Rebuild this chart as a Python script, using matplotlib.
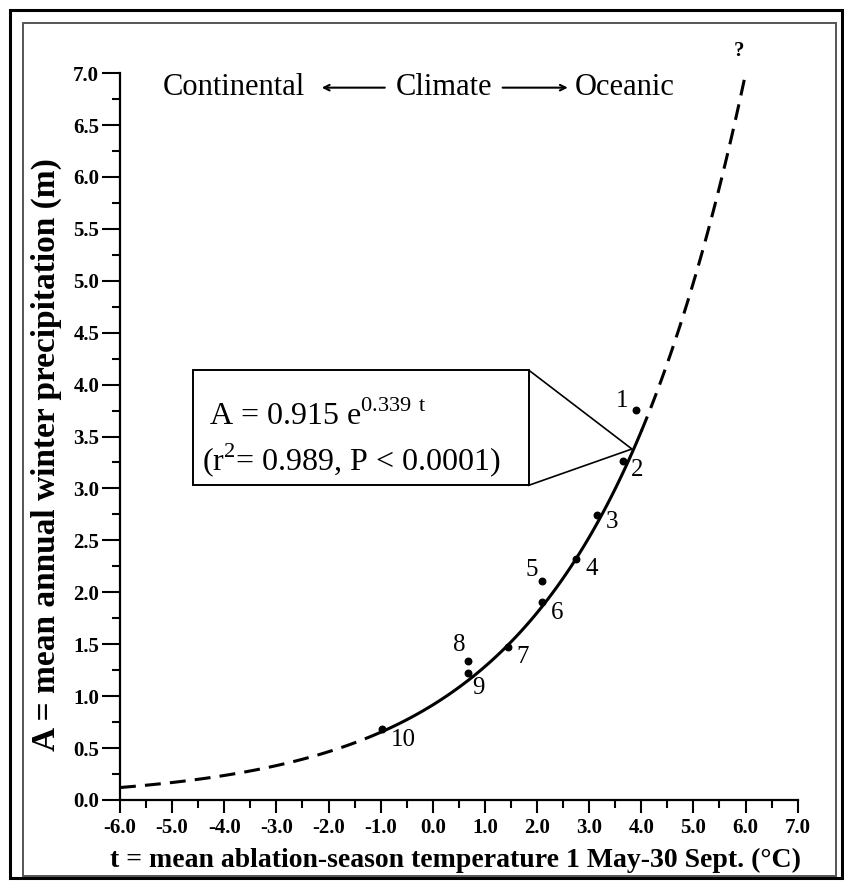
import numpy as np
import matplotlib
matplotlib.use("Agg")
import matplotlib.pyplot as plt
from matplotlib.patches import Rectangle

plt.rcParams["font.family"] = ["Liberation Serif", "DejaVu Serif"]
plt.rcParams["mathtext.fontset"] = "custom"
plt.rcParams["mathtext.rm"] = "Liberation Serif"
plt.rcParams["axes.unicode_minus"] = False

# fitted model A = a * exp(b * t), as printed on the chart
fit_a = 0.915
fit_b = 0.339

station_ids = ["1", "2", "3", "4", "5", "6", "7", "8", "9", "10"]
temp_t = [3.90, 3.65, 3.15, 2.75, 2.10, 2.10, 1.45, 0.67, 0.67, -0.97]
precip_a = [3.76, 3.26, 2.74, 2.32, 2.11, 1.91, 1.47, 1.34, 1.22, 0.68]
# label offsets in pixels (dx, dy) relative to each dot
label_offsets = [(-14, 9), (14, -9), (15, -7), (16, -10), (-10, 11),
                 (15, -11), (14, -10), (-8, 16), (11, -15), (21, -11)]

x_ticks = np.arange(-6.0, 7.01, 1.0)
y_ticks = np.arange(0.0, 7.01, 0.5)

# curve segments: dashed extrapolation, solid over observed range
t_low = np.linspace(-6.0, -1.0, 100)
t_obs = np.linspace(-1.0, 4.0, 100)
t_high = np.linspace(4.0, 6.0, 100)


def model(t):
    return fit_a * np.exp(fit_b * t)


fig = plt.figure(figsize=(8.45, 8.81), dpi=100)
ax = fig.add_axes([0.142, 0.092, 0.802, 0.825])

dash = (5.2, 3.0)
ax.plot(t_low, model(t_low), color="black", lw=2.2, dashes=dash)
ax.plot(t_obs, model(t_obs), color="black", lw=2.2)
ax.plot(t_high, model(t_high), color="black", lw=2.2, dashes=dash, clip_on=False)
ax.text(5.88, 7.12, "?", fontsize=15, fontweight="bold", ha="center", va="bottom")

ax.scatter(temp_t, precip_a, s=22, color="black", zorder=3)
for sid, t, a, (dx, dy) in zip(station_ids, temp_t, precip_a, label_offsets):
    ax.annotate(sid, (t, a), xytext=(dx * 0.72, dy * 0.72), textcoords="offset points",
                ha="center", va="center", fontsize=18)

# equation box with pointer to the curve
box_x0, box_y0, box_x1, box_y1 = -4.60, 3.03, 1.84, 4.14
apex = (3.82, 3.38)
ax.add_patch(Rectangle((box_x0, box_y0), box_x1 - box_x0, box_y1 - box_y0,
                       fill=False, lw=1.4, color="black"))
ax.plot([box_x1, apex[0], box_x1], [box_y1, apex[1], box_y0], color="black", lw=1.2)
ax.text(-4.30, 3.61, r"A = 0.915 e$^{\mathrm{0.339\ t}}$", fontsize=23, va="baseline")
ax.text(-4.43, 3.18, r"(r$^{\mathrm{2}}$= 0.989, P < 0.0001)", fontsize=23, va="baseline")

# climate header
ax.text(-5.18, 6.86, "Continental", fontsize=22, ha="left", va="center")
ax.text(0.22, 6.86, "Climate", fontsize=22, ha="center", va="center")
ax.text(2.72, 6.86, "Oceanic", fontsize=22, ha="left", va="center")
arrow_kw = dict(arrowstyle="->", lw=1.5, color="black", shrinkA=0, shrinkB=0)
ax.annotate("", xy=(-2.13, 6.86), xytext=(-0.92, 6.86), arrowprops=arrow_kw)
ax.annotate("", xy=(2.59, 6.86), xytext=(1.34, 6.86), arrowprops=arrow_kw)

ax.set_xlim(-6.0, 7.0)
ax.set_ylim(0.0, 7.0)
ax.spines["top"].set_visible(False)
ax.spines["right"].set_visible(False)
ax.spines["left"].set_linewidth(1.6)
ax.spines["bottom"].set_linewidth(1.6)

ax.set_xticks(x_ticks)
ax.set_xticklabels([f"{v:.1f}" for v in x_ticks])
ax.set_xticks(np.arange(-5.5, 7.0, 1.0), minor=True)
ax.set_yticks(y_ticks)
ax.set_yticklabels([f"{v:.1f}" for v in y_ticks])
ax.set_yticks(np.arange(0.25, 7.0, 0.5), minor=True)
ax.tick_params(axis="both", which="major", direction="out", width=1.5, labelsize=15)
ax.tick_params(axis="x", which="major", length=9, pad=4)
ax.tick_params(axis="y", which="major", length=13, pad=2)
ax.tick_params(axis="both", which="minor", direction="out", width=1.5, length=6)
for lab in ax.get_xticklabels() + ax.get_yticklabels():
    lab.set_fontweight("bold")

fig.text(456 / 845, 1 - 860 / 881, "t = mean ablation-season temperature 1 May-30 Sept. (°C)",
         ha="center", va="center", fontsize=20, fontweight="bold")
fig.text(46 / 845, 1 - 455 / 881, "A = mean annual winter precipitation (m)",
         ha="center", va="center", rotation=90, fontsize=24, fontweight="bold")

# scanned page frames
fig.add_artist(Rectangle((10 / 845, 3 / 881), 832 / 845, 868 / 881, transform=fig.transFigure,
                         fill=False, lw=2.2, color="black"))
fig.add_artist(Rectangle((23 / 845, 5 / 881), 813 / 845, 853 / 881, transform=fig.transFigure,
                         fill=False, lw=1.4, color="#555555"))

fig.savefig("out.png", dpi=100)
